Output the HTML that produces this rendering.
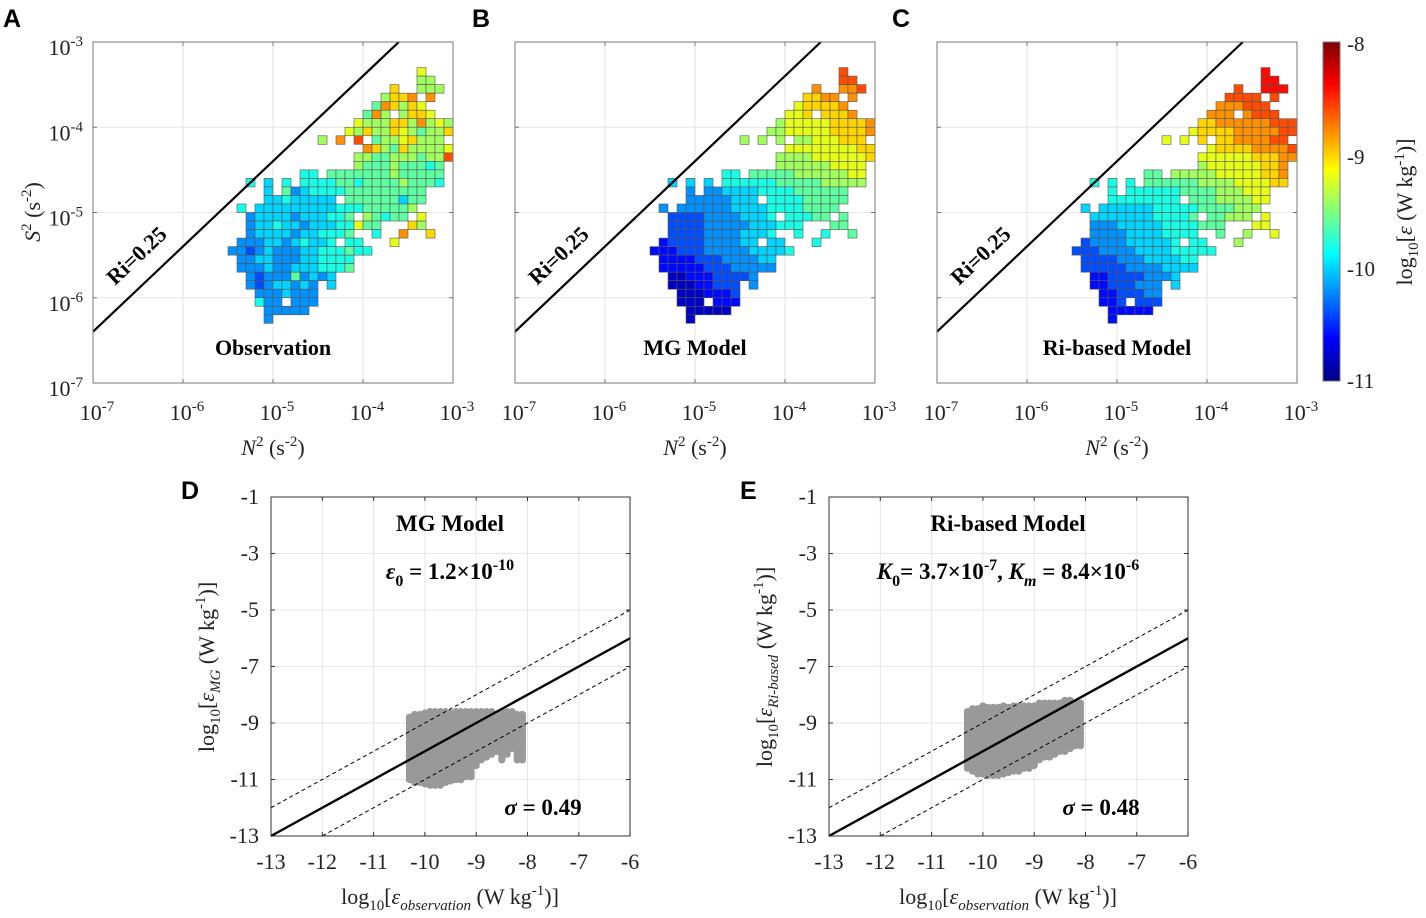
<!DOCTYPE html>
<html><head><meta charset="utf-8">
<style>
html,body{margin:0;padding:0;background:#fff;}
svg{display:block;font-family:"Liberation Serif",serif;}
.lbl{font-family:"Liberation Sans",sans-serif;font-weight:bold;font-size:25px;}
</style></head>
<body>
<svg id="fig" width="1426" height="918" viewBox="0 0 1426 918" xmlns="http://www.w3.org/2000/svg">
<text class="lbl" x="3" y="27">A</text>
<text class="lbl" x="472" y="27">B</text>
<text class="lbl" x="892" y="27">C</text>
<text class="lbl" x="181" y="499">D</text>
<text class="lbl" x="740" y="499">E</text>
<g id="topPanels"></g>
<g id="bottomPanels"></g>
<defs>
<linearGradient id="jet" x1="0" y1="1" x2="0" y2="0">
<stop offset="0" stop-color="#000080"/><stop offset="0.125" stop-color="#0000ff"/><stop offset="0.375" stop-color="#00ffff"/><stop offset="0.625" stop-color="#ffff00"/><stop offset="0.875" stop-color="#ff0000"/><stop offset="1" stop-color="#800000"/>
</linearGradient>
</defs>
<rect x="1323" y="42" width="17" height="339" fill="url(#jet)" stroke="#777" stroke-width="1"/>
<g font-size="21" fill="#222">
<text x="1347" y="51">-8</text><text x="1347" y="164">-9</text><text x="1347" y="276">-10</text><text x="1347" y="388">-11</text>
</g>
<text transform="translate(1412,212) rotate(-90)" text-anchor="middle" font-size="22" fill="#222">log<tspan font-size="15" dy="6">10</tspan><tspan dy="-6">[</tspan><tspan font-style="italic">ε</tspan> (W kg<tspan font-size="15" dy="-8">-1</tspan><tspan dy="8">)]</tspan></text>
</svg>
<script>
// ---------- Panels A-C: log10(eps) bins on N2 (x) / S2 (y) grid, 0.1-decade bins ----------
const rowStart=[21,21,18,17,16,15,14,13,10,15,14,14,8,2,4,4,1,2,2,2,1,0,1,1,2,2,3,3,4,4];
const obsRows=["9","88","a..888","8aab.b","7ba8a9","7b8.8aa9","9888aa8b898","98a88a98788a","8.b.c.7889a888","ba87a88889","8877888788c","8777877767","66.7777777877777","6.5.6.6666776777787776","5.7456666777777777","55655555.777777577","6.555555555666777778","455554555667.87677.9","455655455566977...a8","455554556667..6..b..a","44455456556.66...9","4434544455666766","4455444556666","4445445556667","4344474545","43455454.5","4445444","644.444","44444","4"];
const mgRows=["c","cc","b..bbc","aabb.b","9aaaab","99a.aaab","899999aaaab","8899999aaaab","8.8.8.88999aaa","99999999aa","8888999999a","8888889999","66.7777788888899","5.5.5.6666667777788888","4.4455556666777777","44444555.666677777","4.444444555566667777","333344445556.66677.7","333344444555666...77","333344445556..6..6..7","23333444455.55...6","2223334444455556","2222333444455","2222233344444","1122233334","11122333.4","1112223","111.222","11111","1"];
const riRows=["d","dd","c..ddd","cccc.c","bbbccc","bbb.bccc","aabbbbbbccc","9aaaabbbbbcc","9.9.a.aabbbbcc","9aaaabbbbc","999999aaabb","8999999aab","77.8888899999aab","6.6.6.77777788889999aa","6.6666667777888999","66666666.777888899","5.555555666667777888","555555566667.77888.9","444555556666777...99","444455556666..7..8..9","34444555556.66...8","3334444555566666","3333444555566","3333344445555","2233334445","22333444.5","2233344","223.333","22222","2"];
const panelData=[obsRows,mgRows,riRows];
const panelTitles=["Observation","MG Model","Ri-based Model"];
const xTickExp=[-7,-6,-5,-4,-3];
const yTickExp=[-3,-4,-5,-6,-7];
const panelLeft=[93,515,937];
const NS='http://www.w3.org/2000/svg';
function el(tag,attrs,parent){const e=document.createElementNS(NS,tag);for(const k in attrs)e.setAttribute(k,attrs[k]);parent.appendChild(e);return e;}
function nx(p,v){return panelLeft[p]+(v+7)*90;}
function sy(v){return 42+(-3-v)*85.25;}
function jet(v){const t=Math.max(0,Math.min(1,(v+11)/3));const c=x=>Math.round(255*Math.max(0,Math.min(1,1.5-Math.abs(4*t-x))));return `rgb(${c(3)},${c(2)},${c(1)})`;}
const topG=document.getElementById('topPanels');
for(let p=0;p<3;p++){
  const g=el('g',{},topG);
  
  
  xTickExp.forEach(e=>{const x=nx(p,e);el('line',{x1:x,x2:x,y1:42,y2:383,stroke:'#e6e6e6','stroke-width':1},g);});
  yTickExp.forEach(e=>{const y=sy(e);el('line',{x1:panelLeft[p],x2:panelLeft[p]+360,y1:y,y2:y,stroke:'#e6e6e6','stroke-width':1},g);});
  const rows=panelData[p];
  rows.forEach((s,r)=>{
    for(let i=0;i<s.length;i++){
      const ch=s[i]; if(ch==='.')continue;
      const val=-11+3*parseInt(ch,16)/15;
      const k=rowStart[r]+i;
      const lx=-5.5+0.1*k, ly=-3.3-0.1*r;
      const rc=el('rect',{x:nx(p,lx),y:sy(ly),width:nx(p,lx+0.1)-nx(p,lx),height:sy(ly-0.1)-sy(ly),fill:jet(val),stroke:'#555','stroke-width':0.6},g);
      
      
    }
  });
  const l0=-7, l1=-3-Math.log10(4);
  const ln=el('line',{x1:nx(p,l0),y1:sy(l0+Math.log10(4)),x2:nx(p,l1),y2:sy(-3),stroke:'#000','stroke-width':2.2},g);
  
  
  const rt=el('text',{transform:`translate(${panelLeft[p]+22},${286}) rotate(-43.4)`,'font-size':22,'font-weight':'bold'},g);
  rt.textContent='Ri=0.25';
  
  
  el('rect',{x:panelLeft[p],y:42,width:360,height:341,fill:'none',stroke:'#777','stroke-width':1},g);
  xTickExp.forEach(e=>{const x=nx(p,e);el('line',{x1:x,x2:x,y1:383,y2:379,stroke:'#777'},g);el('line',{x1:x,x2:x,y1:42,y2:46,stroke:'#777'},g);
    const t=el('text',{x:x+4,y:420,'text-anchor':'middle','font-size':22,fill:'#222'},g);
    
    
    t.innerHTML=`10<tspan font-size="15" dy="-9">${e}</tspan>`;});
  yTickExp.forEach(e=>{const y=sy(e);el('line',{x1:panelLeft[p],x2:panelLeft[p]+4,y1:y,y2:y,stroke:'#777'},g);el('line',{x1:panelLeft[p]+356,x2:panelLeft[p]+360,y1:y,y2:y,stroke:'#777'},g);
    if(p===0){const t=el('text',{x:83,y:y+13,'text-anchor':'end','font-size':22,fill:'#222'},g);
    
    
    t.innerHTML=`10<tspan font-size="15" dy="-9">${e}</tspan>`;}});
  const tt=el('text',{x:panelLeft[p]+180,y:355,'text-anchor':'middle','font-size':22,'font-weight':'bold'},g);
  tt.textContent=panelTitles[p];
  
  
  const xl=el('text',{x:panelLeft[p]+180,y:455,'text-anchor':'middle','font-size':22,fill:'#222'},g);
  
  
  xl.innerHTML='<tspan font-style="italic">N</tspan><tspan font-size="15" dy="-9">2</tspan><tspan dy="9"> (s</tspan><tspan font-size="15" dy="-9">-2</tspan><tspan dy="9">)</tspan>';
}
const yl=el('text',{transform:'translate(40,212) rotate(-90)','text-anchor':'middle','font-size':22,fill:'#222'},topG);


yl.innerHTML='<tspan font-style="italic">S</tspan><tspan font-size="15" dy="-9">2</tspan><tspan dy="9"> (s</tspan><tspan font-size="15" dy="-9">-2</tspan><tspan dy="9">)</tspan>';

// ---------- Panels D-E: scatter, binned by observation (0.1 steps) with model range ----------
const obsBins=[-10.3,-10.2,-10.1,-10.0,-9.9,-9.8,-9.7,-9.6,-9.5,-9.4,-9.3,-9.2,-9.1,-9.0,-8.9,-8.8,-8.7,-8.6,-8.5,-8.4,-8.3,-8.2,-8.1];
const mgMax=[-8.8,-8.7,-8.65,-8.6,-8.6,-8.6,-8.6,-8.6,-8.6,-8.6,-8.6,-8.6,-8.6,-8.6,-8.6,-8.6,-8.6,-8.65,-8.6,-8.6,-8.6,-8.65,-8.7];
const mgMin=[-11.0,-11.1,-11.1,-11.15,-11.2,-11.2,-11.2,-11.1,-11.05,-11.0,-11.0,-10.9,-10.9,-10.5,-10.3,-10.2,-10.1,-10.0,-10.3,-10.1,-9.9,-10.3,-10.3];
const riMax=[-8.6,-8.5,-8.45,-8.4,-8.4,-8.4,-8.4,-8.4,-8.4,-8.4,-8.35,-8.35,-8.35,-8.35,-8.3,-8.3,-8.3,-8.3,-8.25,-8.2,-8.2,-8.25,-8.3];
const riMin=[-10.6,-10.7,-10.8,-10.8,-10.85,-10.85,-10.85,-10.8,-10.75,-10.7,-10.7,-10.6,-10.6,-10.5,-10.3,-10.2,-10.2,-10.1,-10.0,-10.0,-9.9,-9.8,-9.8];
const bXTicks=[-13,-12,-11,-10,-9,-8,-7,-6];
const bYTicks=[-1,-3,-5,-7,-9,-11,-13];
const bLeft=[271,829];
const bottomG=document.getElementById('bottomPanels');
function bx(p,v){return bLeft[p]+(v+13)*51.3;}
function by(v){return 497+(-1-v)*28.25;}
const scat=[[mgMin,mgMax],[riMin,riMax]];
for(let p=0;p<2;p++){
  const g=el('g',{},bottomG);
  
  
  const L=bLeft[p];
  bXTicks.forEach(v=>{const x=bx(p,v);el('line',{x1:x,x2:x,y1:497,y2:836,stroke:'#e6e6e6'},g);});
  bYTicks.forEach(v=>{const y=by(v);el('line',{x1:L,x2:L+359,y1:y,y2:y,stroke:'#e6e6e6'},g);});
  const sg=el('g',{fill:'#999'},g);
  
  
  const mn=scat[p][0], mx=scat[p][1];
  obsBins.forEach((o,i)=>{
    for(let m=mn[i];m<=mx[i]+1e-6;m+=0.1){
      el('circle',{cx:bx(p,o),cy:by(m),r:3.7},sg);
    }
  });
  const lines=[[-13,-13,-6,-6,2.4,''],[-13,-12,-6,-5,1,'4,3'],[-12,-13,-6,-7,1,'4,3']];
  lines.forEach(a=>{const ln=el('line',{x1:bx(p,a[0]),y1:by(a[1]),x2:bx(p,a[2]),y2:by(a[3]),stroke:'#000','stroke-width':a[4],'stroke-dasharray':a[5]||'none'},g);
    
    });
  el('rect',{x:L,y:497,width:359,height:339,fill:'none',stroke:'#333','stroke-width':1},g);
  bXTicks.forEach(v=>{const x=bx(p,v);el('line',{x1:x,x2:x,y1:836,y2:832,stroke:'#333'},g);el('line',{x1:x,x2:x,y1:497,y2:501,stroke:'#333'},g);
    const t=el('text',{x:x,y:869,'text-anchor':'middle','font-size':22,fill:'#222'},g);t.textContent=v;
    
    });
  bYTicks.forEach(v=>{const y=by(v);el('line',{x1:L,x2:L+4,y1:y,y2:y,stroke:'#333'},g);el('line',{x1:L+355,x2:L+359,y1:y,y2:y,stroke:'#333'},g);
    const t=el('text',{x:L-12,y:y+7,'text-anchor':'end','font-size':22,fill:'#222'},g);t.textContent=v;
    
    });
}
bottomG.insertAdjacentHTML('beforeend',`
<g font-size="23" fill="#000">
<text x="450" y="531" text-anchor="middle" font-weight="bold">MG Model</text>
<text x="450" y="579" text-anchor="middle" font-weight="bold"><tspan font-style="italic">ε</tspan><tspan font-size="16" dy="7">0</tspan><tspan dy="-7"> = 1.2×10</tspan><tspan font-size="16" dy="-9">-10</tspan></text>
<text x="543" y="815" text-anchor="middle" font-weight="bold"><tspan font-style="italic">σ</tspan> = 0.49</text>
<text transform="translate(214,667) rotate(-90)" text-anchor="middle" fill="#222" font-size="22">log<tspan font-size="15" dy="6">10</tspan><tspan dy="-6">[</tspan><tspan font-style="italic">ε</tspan><tspan font-size="15" font-style="italic" dy="6">MG</tspan><tspan dy="-6"> (W kg</tspan><tspan font-size="15" dy="-9">-1</tspan><tspan dy="9">)]</tspan></text>
<text x="450" y="904" text-anchor="middle" fill="#222" font-size="22">log<tspan font-size="15" dy="6">10</tspan><tspan dy="-6">[</tspan><tspan font-style="italic">ε</tspan><tspan font-size="15" font-style="italic" dy="6">observation</tspan><tspan dy="-6"> (W kg</tspan><tspan font-size="15" dy="-9">-1</tspan><tspan dy="9">)]</tspan></text>
</g>
<g font-size="23" fill="#000">
<text x="1008" y="531" text-anchor="middle" font-weight="bold">Ri-based Model</text>
<text x="1008" y="579" text-anchor="middle" font-weight="bold"><tspan font-style="italic">K</tspan><tspan font-size="16" dy="7">0</tspan><tspan dy="-7">= 3.7×10</tspan><tspan font-size="16" dy="-9">-7</tspan><tspan dy="9">,  </tspan><tspan font-style="italic">K</tspan><tspan font-size="16" font-style="italic" dy="7">m</tspan><tspan dy="-7"> = 8.4×10</tspan><tspan font-size="16" dy="-9">-6</tspan></text>
<text x="1101" y="815" text-anchor="middle" font-weight="bold"><tspan font-style="italic">σ</tspan> = 0.48</text>
<text transform="translate(772,667) rotate(-90)" text-anchor="middle" fill="#222" font-size="22">log<tspan font-size="15" dy="6">10</tspan><tspan dy="-6">[</tspan><tspan font-style="italic">ε</tspan><tspan font-size="15" font-style="italic" dy="6">Ri-based</tspan><tspan dy="-6"> (W kg</tspan><tspan font-size="15" dy="-9">-1</tspan><tspan dy="9">)]</tspan></text>
<text x="1008" y="904" text-anchor="middle" fill="#222" font-size="22">log<tspan font-size="15" dy="6">10</tspan><tspan dy="-6">[</tspan><tspan font-style="italic">ε</tspan><tspan font-size="15" font-style="italic" dy="6">observation</tspan><tspan dy="-6"> (W kg</tspan><tspan font-size="15" dy="-9">-1</tspan><tspan dy="9">)]</tspan></text>
</g>`);
</script>
</body></html>
